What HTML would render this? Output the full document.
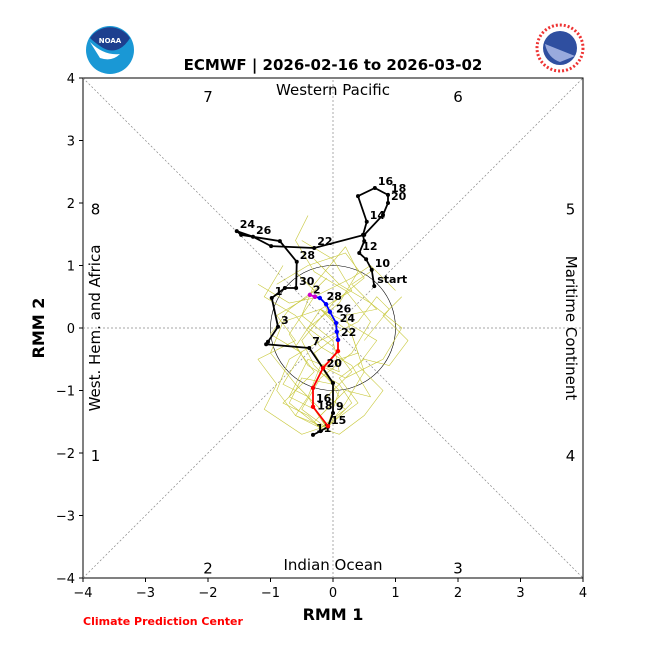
<!DOCTYPE html>
<html><head><meta charset="utf-8"><style>
body{margin:0;background:#fff;width:650px;height:650px;overflow:hidden}
svg{font-family:"DejaVu Sans","Liberation Sans",sans-serif}
</style></head><body>
<svg id="chart" width="650" height="650" viewBox="0 0 650 650">
<g>
<circle cx="110" cy="50" r="24" fill="#1a98d5"/>
<path d="M90 38 A24 24 0 0 1 130 38 Q124 48 116 50 Q108 52 100 46 Q94 42 90 38Z" fill="#1d3f8f"/>
<path d="M90 42 Q104 56 120 54 Q112 62 100 58 Z" fill="#fff"/>
<text x="110" y="43" font-size="7" font-weight="bold" fill="#fff" text-anchor="middle">NOAA</text>
</g>
<g>
<circle cx="560" cy="48" r="23" fill="#fff" stroke="#e33" stroke-width="3" stroke-dasharray="2 2"/>
<circle cx="560" cy="48" r="17" fill="#2f4fa0"/>
<path d="M545 44 L575 56 L560 62 Q548 58 545 44Z" fill="#9ad"/>
</g>
<text x="333" y="70" font-size="15" font-weight="bold" text-anchor="middle">ECMWF | 2026-02-16 to 2026-03-02</text>
<g id="plot"></g>
<text x="333" y="620" font-size="16" font-weight="bold" text-anchor="middle">RMM 1</text>
<text x="44" y="328" font-size="16" font-weight="bold" text-anchor="middle" transform="rotate(-90 44 328)">RMM 2</text>
<text x="83" y="625" font-size="11" font-weight="bold" fill="red">Climate Prediction Center</text>
</svg>
<script>
const ticks=[-4,-3,-2,-1,0,1,2,3,4];
const obsX=[0.66,0.62,0.53,0.42,0.50,0.48,0.54,0.40,0.67,0.88,0.88,0.80,0.50,-0.30,-0.99,-1.28,-1.54,-1.47,-0.85,-0.58,-0.59,-0.77,-0.98,-0.88,-1.04,-1.07,-0.38,0.00,0.00,-0.08,-0.20,-0.32];
const obsY=[0.67,0.93,1.10,1.20,1.39,1.49,1.70,2.11,2.24,2.13,2.00,1.81,1.49,1.28,1.31,1.46,1.55,1.49,1.39,1.06,0.64,0.64,0.48,0.02,-0.22,-0.26,-0.32,-0.88,-1.36,-1.58,-1.65,-1.71];
const obsLabels=[[0,'start'],[1,'10'],[3,'12'],[6,'14'],[8,'16'],[9,'18'],[10,'20'],[13,'22'],[16,'24'],[15,'26'],[19,'28'],[20,'30'],[22,'1'],[23,'3'],[26,'7'],[28,'9'],[29,'15'],[31,'11']];
const redX=[-0.08,-0.32,-0.32,-0.16,0.08,0.08];
const redY=[-1.57,-1.26,-0.96,-0.64,-0.37,-0.19];
const blueX=[0.08,0.06,0.05,-0.05,-0.11,-0.21,-0.29];
const blueY=[-0.19,-0.06,0.08,0.26,0.38,0.48,0.50];
const magX=[-0.29,-0.37];
const magY=[0.50,0.53];
const fcLabels=[['16',-0.32,-1.18],['18',-0.3,-1.3],['20',-0.15,-0.62],['22',0.08,-0.13],['24',0.06,0.1],['26',0.0,0.25],['28',-0.15,0.45],['2',-0.37,0.55]];
const ensX=[
[-0.1,-0.5,-0.2,0.3,0.6,0.2,-0.3,-0.6,-0.4],
[-0.1,0.2,0.5,0.3,-0.2,-0.8,-1.0,-0.6,-0.2],
[-0.1,-0.6,-0.9,-0.7,-0.2,0.4,0.7,0.9,0.5],
[-0.1,0.1,-0.3,-0.5,0.0,0.5,0.2,-0.4,-0.9],
[-0.1,-0.4,-0.2,0.2,0.8,1.1,0.6,0.1,-0.3],
[-0.1,-0.3,-0.7,-0.4,0.1,0.0,-0.5,-0.3,0.2],
[-0.1,0.3,0.1,-0.4,-0.7,-0.3,0.3,0.6,1.0],
[-0.1,-0.2,0.2,0.6,0.3,-0.2,-0.6,-1.1,-0.8],
[-0.2,-0.6,-0.4,-0.8,-0.5,-1.0,-0.7,-0.3,-0.6],
[-0.2,0.0,0.4,0.1,0.5,0.9,1.2,0.8,1.1],
[-0.2,-0.5,-1.1,-0.9,-1.2,-0.6,-0.9,-0.4,-0.1],
[-0.2,0.2,-0.1,0.3,0.0,-0.4,0.1,0.4,0.2],
[-0.2,-0.3,0.1,-0.2,0.4,0.2,0.7,0.3,0.6],
[-0.2,-0.7,-0.5,0.0,-0.3,0.1,-0.2,-0.7,-1.2],
[-0.2,0.1,0.5,0.8,0.4,0.7,0.2,-0.2,0.1],
[-0.2,-0.4,-0.8,-0.3,-0.6,-0.2,0.3,0.0,-0.5]];
const ensY=[
[-1.6,-1.3,-0.8,-0.4,0.1,0.6,0.9,1.4,1.8],
[-1.6,-1.2,-0.7,-0.1,0.3,0.1,-0.4,-0.9,-1.3],
[-1.6,-1.4,-1.0,-0.5,-0.2,0.1,0.5,0.3,-0.2],
[-1.6,-1.0,-0.6,-0.2,0.4,0.8,1.2,1.0,0.7],
[-1.6,-1.1,-0.6,-0.8,-0.5,0.0,0.4,0.7,1.1],
[-1.6,-1.3,-1.1,-0.5,-0.7,-0.2,0.2,0.7,1.3],
[-1.6,-1.2,-0.9,-0.6,-0.1,0.5,0.8,1.0,0.6],
[-1.6,-1.4,-1.0,-1.1,-0.6,-0.3,0.2,0.5,1.0],
[-1.6,-1.4,-1.1,-0.9,-0.4,-0.1,0.3,0.6,0.9],
[-1.6,-1.5,-1.2,-0.8,-0.5,-0.6,-0.2,0.2,0.5],
[-1.6,-1.7,-1.3,-0.9,-0.5,-0.2,0.2,0.5,0.8],
[-1.6,-1.3,-1.1,-0.7,-0.3,0.0,0.4,0.9,1.3],
[-1.6,-1.5,-1.1,-0.6,-0.4,0.2,0.3,0.7,0.9],
[-1.6,-1.2,-0.8,-0.9,-0.4,-0.1,0.5,0.4,0.7],
[-1.6,-1.7,-1.4,-1.0,-0.6,-0.2,0.1,0.3,0.0],
[-1.6,-1.4,-1.2,-0.7,-0.3,0.3,0.6,1.1,1.4]];
const phaseLabels=[['7',-2,3.7],['6',2,3.7],['8',-3.8,1.9],['5',3.8,1.9],['1',-3.8,-2.05],['4',3.8,-2.05],['2',-2,-3.85],['3',2,-3.85]];
const NS='http://www.w3.org/2000/svg';
const X=v=>333+v*62.5, Y=v=>328-v*62.5;
const plot=document.getElementById('plot');
function mk(t,a,p){const e=document.createElementNS(NS,t);for(const k in a)e.setAttribute(k,a[k]);(p||plot).appendChild(e);return e;}
let e;
e=mk('rect',{x:83,y:78,width:500,height:500,fill:'none',stroke:'#000','stroke-width':1});


[[-4,-4,4,4],[-4,4,4,-4],[0,-4,0,4],[-4,0,4,0]].forEach(l=>{
e=mk('line',{x1:X(l[0]),y1:Y(l[1]),x2:X(l[2]),y2:Y(l[3]),stroke:'#888','stroke-width':0.7,'stroke-dasharray':'2 2'});


});
e=mk('circle',{cx:X(0),cy:Y(0),r:62.5,fill:'none',stroke:'#000','stroke-width':0.6});


ticks.forEach(t=>{
e=mk('line',{x1:X(t),y1:578,x2:X(t),y2:582,stroke:'#000'});


e=mk('text',{x:X(t),y:597,'font-size':13,'text-anchor':'middle'});e.textContent=(t<0?'\u2212'+(-t):t);


e=mk('line',{x1:79,y1:Y(t),x2:83,y2:Y(t),stroke:'#000'});


e=mk('text',{x:75,y:Y(t)+5,'font-size':13,'text-anchor':'end'});e.textContent=(t<0?'\u2212'+(-t):t);


});
[['Western Pacific',333,95,0],['Indian Ocean',333,570,0],['West. Hem. and Africa',100,328,-90],['Maritime Continent',566,328,90]].forEach(r=>{
e=mk('text',{x:r[1],y:r[2],'font-size':15,'text-anchor':'middle',transform:'rotate('+r[3]+' '+r[1]+' '+r[2]+')'});e.textContent=r[0];


});
phaseLabels.forEach(p=>{
e=mk('text',{x:X(p[1]),y:Y(p[2])+5,'font-size':15,'text-anchor':'middle'});e.textContent=p[0];


});
const pts=(xs,ys)=>xs.map((v,i)=>X(v)+','+Y(ys[i])).join(' ');
ensX.forEach((xs,i)=>{
e=mk('polyline',{points:pts(xs,ensY[i]),fill:'none',stroke:'#c8c83a','stroke-width':0.6});


});
e=mk('polyline',{points:pts(obsX,obsY),fill:'none',stroke:'#000','stroke-width':1.8});


obsX.forEach((v,i)=>{
e=mk('circle',{cx:X(v),cy:Y(obsY[i]),r:2,fill:'#000'});


});
obsLabels.forEach(l=>{
e=mk('text',{x:X(obsX[l[0]])+3,y:Y(obsY[l[0]])-3,'font-size':11,'font-weight':'bold'});e.textContent=l[1];


});
[[redX,redY,'red','forecast-week1'],[blueX,blueY,'blue','forecast-week2'],[magX,magY,'#c0c','forecast-week3']].forEach(s=>{
e=mk('polyline',{points:pts(s[0],s[1]),fill:'none',stroke:s[2],'stroke-width':1.8});


s[0].forEach((v,i)=>{
e=mk('circle',{cx:X(v),cy:Y(s[1][i]),r:2.2,fill:s[2]});


});
});
fcLabels.forEach(l=>{
e=mk('text',{x:X(l[1])+3,y:Y(l[2]),'font-size':11,'font-weight':'bold'});e.textContent=l[0];


});
</script>
</body></html>
